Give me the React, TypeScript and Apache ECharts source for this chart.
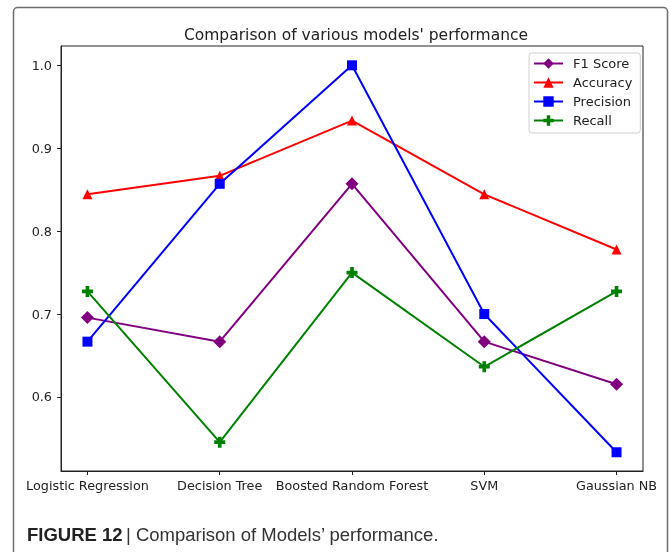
import React, { useEffect, useRef } from "react";
import * as echarts from "echarts";

const categories = ["Logistic Regression", "Decision Tree", "Boosted Random Forest", "SVM", "Gaussian NB"];
const f1Score = [0.6957, 0.6667, 0.8571, 0.6667, 0.6154];
const accuracy = [0.8444, 0.8667, 0.9333, 0.8444, 0.7778];
const precision = [0.6667, 0.8571, 1.0, 0.7, 0.5333];
const recall = [0.7273, 0.5455, 0.75, 0.6364, 0.7273];
const yTicks = [0.6, 0.7, 0.8, 0.9, 1.0];
const xTicks = [0, 1, 2, 3, 4];

const DIAMOND = "path://M0,-1L1,0L0,1L-1,0Z";
const PLUS = "path://M-1,-3H1V-1H3V1H1V3H-1V1H-3V-1H-1Z";

export default function App() {
  const ref = useRef<HTMLDivElement>(null);
  useEffect(() => {
    if (!ref.current) return;
    const chart = echarts.init(ref.current, null, { renderer: "svg" });
    const font = "DejaVu Sans";
    const mk = (name: string, data: number[], color: string, symbol: string, size: number) => ({
      name,
      type: "line",
      data: data.map((v, i) => [i, v]),
      symbol,
      symbolSize: size,
      showAllSymbol: true,
      lineStyle: { color, width: 2 },
      itemStyle: { color, borderWidth: 0 },
      emphasis: { disabled: true },
    });
    chart.setOption({
      animation: false,
      title: {
        text: "Comparison of various models' performance",
        left: 351,
        textAlign: "center",
        top: 22,
        textStyle: { fontFamily: font, fontSize: 15.5, fontWeight: "normal", color: "#222" },
      },
      grid: {
        left: 61,
        right: 27,
        top: 46,
        bottom: 81,
        show: true,
        borderColor: "#222",
        borderWidth: 1,
        containLabel: false,
      },
      legend: {
        orient: "vertical",
        left: 529,
        top: 53,
        padding: [4, 8, 6, 4],
        itemGap: 6,
        itemWidth: 29,
        itemHeight: 13,
        borderColor: "#cfcfcf",
        borderWidth: 1,
        borderRadius: 3,
        backgroundColor: "#fff",
        textStyle: { fontFamily: font, fontSize: 13, color: "#222", padding: [0, 0, 0, 5] },
        data: ["F1 Score", "Accuracy", "Precision", "Recall"],
      },
      xAxis: {
        type: "value",
        min: -0.2,
        max: 4.2,
        splitLine: { show: false },
        axisLine: { show: true, onZero: false, lineStyle: { color: "#222" } },
        axisTick: { show: true, length: 4, customValues: xTicks, lineStyle: { color: "#222" } },
        axisLabel: {
          customValues: xTicks,
          formatter: (v: number) => categories[Math.round(v)] ?? "",
          fontFamily: font,
          fontSize: 12.8,
          color: "#222",
          margin: 8,
        },
      },
      yAxis: {
        type: "value",
        min: 0.5107,
        max: 1.0233,
        splitLine: { show: false },
        axisLine: { show: true, onZero: false, lineStyle: { color: "#222" } },
        axisTick: { show: true, length: 4, customValues: yTicks, lineStyle: { color: "#222" } },
        axisLabel: {
          customValues: yTicks,
          formatter: (v: number) => v.toFixed(1),
          fontFamily: font,
          fontSize: 12.8,
          color: "#222",
          margin: 9,
        },
      },
      series: [
        mk("F1 Score", f1Score, "#800080", DIAMOND, 13),
        mk("Accuracy", accuracy, "#ff0000", "triangle", 10),
        mk("Precision", precision, "#0000ff", "rect", 10),
        mk("Recall", recall, "#008000", PLUS, 11),
      ],
      graphic: [
        {
          type: "rect",
          shape: { x: 13.5, y: 7.5, width: 654, height: 580, r: 4 },
          style: { fill: "none", stroke: "#6e6e6e", lineWidth: 1.5 },
          silent: true,
          z: -1,
        },
        {
          type: "text",
          x: 27,
          y: 534,
          style: {
            text: "{b|FIGURE 12} {r|| Comparison of Models’ performance.}",
            verticalAlign: "middle",
            rich: {
              b: { fontFamily: "Liberation Sans", fontWeight: "bold", fontSize: 18.5, fill: "#222" },
              r: { fontFamily: "Liberation Sans", fontSize: 18.5, fill: "#333" },
            },
          },
        },
      ],
    });
    return () => chart.dispose();
  }, []);
  return <div ref={ref} style={{ position: "fixed", left: 0, top: 0, width: 670, height: 552 }} />;
}
